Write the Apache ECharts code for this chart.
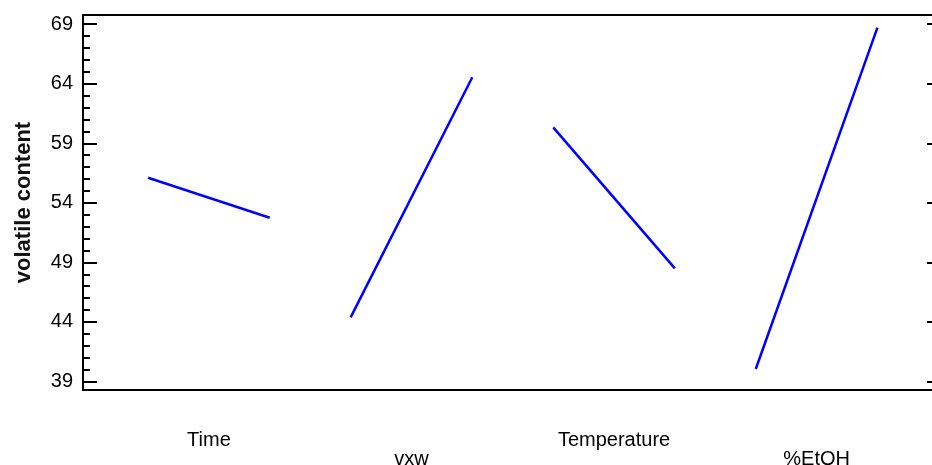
<!DOCTYPE html>
<html>
<head>
<meta charset="utf-8">
<script src="https://cdn.jsdelivr.net/npm/echarts@6/dist/echarts.min.js"></script>
<style>html,body{margin:0;padding:0;background:#fff}#c{width:932px;height:465px}</style>
</head>
<body>
<div id="c"></div>
<script>
// ---- data ----
const factors = ['Time', 'vxw', 'Temperature', '%EtOH'];
const levels = [-1, 1];                       // coded low / high level of each factor
const lowValues = [56.11, 44.39, 60.34, 40.05];   // volatile content at low level
const highValues = [52.75, 64.54, 48.50, 68.71];  // volatile content at high level
const yMajorTicks = [39, 44, 49, 54, 59, 64, 69];
const yMinorTicks = [];
for (let v = 39; v <= 69; v++) if (yMajorTicks.indexOf(v) < 0) yMinorTicks.push(v);

// ---- layout constants ----
const SLOT = 3.33;               // spacing between factor panels, in coded units
const centers = factors.map((f, i) => i * SLOT);
const FONT = "'Liberation Sans', Arial, sans-serif";

const series = factors.map((f, i) => ({
  name: f,
  type: 'line',
  showSymbol: false,
  symbol: 'none',
  silent: true,
  lineStyle: { color: '#0000ff', width: 2.5 },
  data: [
    [centers[i] + levels[0], lowValues[i]],
    [centers[i] + levels[1], highValues[i]]
  ]
}));

const yCommon = { type: 'value', min: 38.29, max: 69.77, splitLine: { show: false } };

const option = {
  animation: false,
  backgroundColor: '#fff',
  grid: { left: 83, right: -2, top: 15, bottom: 75, containLabel: false, outerBoundsMode: 'none' },
  xAxis: [
    {
      type: 'value', position: 'bottom', min: -2.07, max: 11.92,
      splitLine: { show: false },
      axisLine: { show: true, onZero: false, lineStyle: { color: '#000', width: 2 } },
      axisTick: { show: false },
      axisLabel: {
        show: true,
        customValues: centers,
        margin: 40,
        fontFamily: FONT, fontSize: 20, color: '#000',
        formatter: function (v) {
          let idx = 0, best = Infinity;
          centers.forEach((c, i) => { if (Math.abs(c - v) < best) { best = Math.abs(c - v); idx = i; } });
          return idx % 2 === 1 ? '{lo|' + factors[idx] + '}' : '{hi|' + factors[idx] + '}';
        },
        rich: {
          hi: { fontFamily: FONT, fontSize: 20, color: '#000' },
          lo: { fontFamily: FONT, fontSize: 20, color: '#000', padding: [19, 0, 0, 0] }
        }
      }
    },
    {
      type: 'value', position: 'top', min: -2.07, max: 11.92,
      splitLine: { show: false },
      axisLine: { show: true, onZero: false, lineStyle: { color: '#000', width: 2 } },
      axisTick: { show: false }, axisLabel: { show: false }
    }
  ],
  yAxis: [
    Object.assign({}, yCommon, {
      position: 'left',
      name: 'volatile content',
      nameLocation: 'middle',
      nameGap: 48,
      nameRotate: 90,
      nameTextStyle: { fontFamily: FONT, fontSize: 22, fontWeight: 'bold', color: '#111' },
      axisLine: { show: true, onZero: false, lineStyle: { color: '#000', width: 2 } },
      axisTick: { show: true, inside: true, length: 14, customValues: yMajorTicks, lineStyle: { color: '#000', width: 2 } },
      axisLabel: { show: true, customValues: yMajorTicks, margin: 10, fontFamily: FONT, fontSize: 20, color: '#000' }
    }),
    Object.assign({}, yCommon, {
      position: 'left',
      axisLine: { show: false, onZero: false },
      axisTick: { show: true, inside: true, length: 7, customValues: yMinorTicks, lineStyle: { color: '#000', width: 2 } },
      axisLabel: { show: false }
    }),
    Object.assign({}, yCommon, {
      position: 'right',
      axisLine: { show: false, onZero: false },
      axisTick: { show: true, inside: true, length: 7, customValues: yMajorTicks, lineStyle: { color: '#000', width: 2 } },
      axisLabel: { show: false }
    })
  ],
  series: series
};

const chart = echarts.init(document.getElementById('c'), null, { renderer: 'canvas' });
chart.setOption(option);
</script>
</body>
</html>
